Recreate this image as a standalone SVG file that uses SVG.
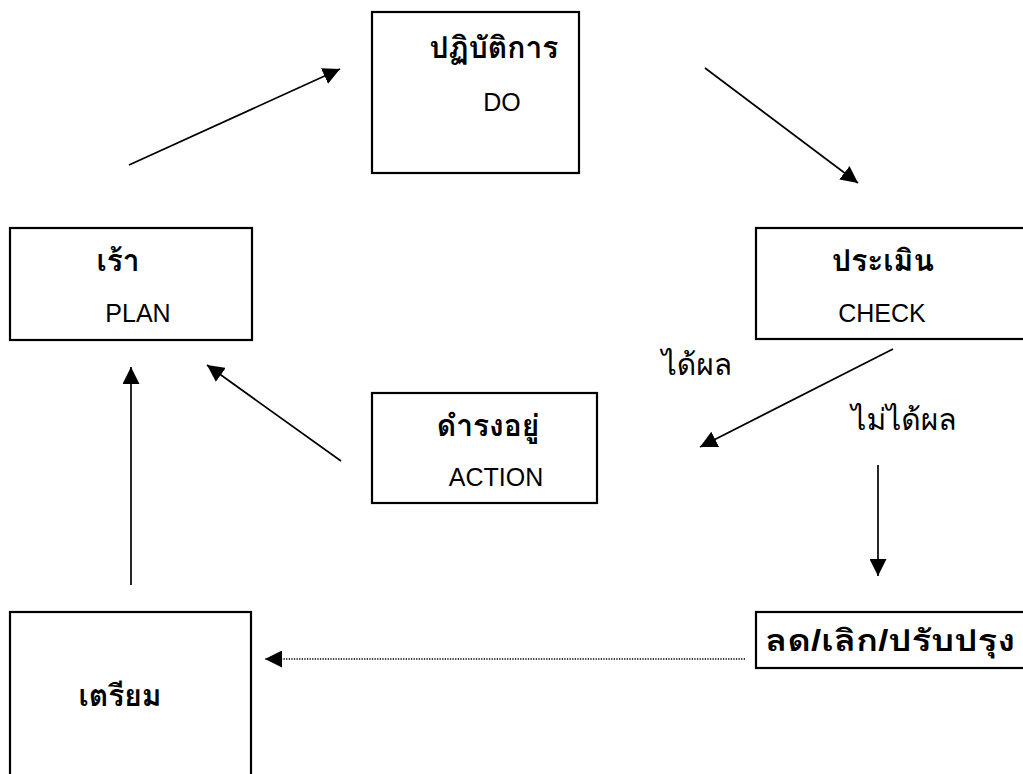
<svg xmlns="http://www.w3.org/2000/svg" width="1023" height="774" viewBox="0 0 1023 774">
<defs>
<style>
.box{fill:#fff;stroke:#000;stroke-width:2.2}
.th{font-family:"Liberation Sans","Loma","Tahoma","Noto Sans Thai Looped","Noto Sans Thai","Noto Sans",sans-serif;font-size:30px;font-weight:bold;fill:#000}
.thn{font-family:"Liberation Sans","Loma","Tahoma","Noto Sans Thai Looped","Noto Sans Thai","Noto Sans",sans-serif;font-size:30px;fill:#000}
.en{font-family:"Liberation Sans",Arial,sans-serif;font-size:25px;fill:#000}
.ln{stroke:#000;stroke-width:1.7;fill:none}
.dot{stroke:#000;stroke-width:1.3;stroke-dasharray:1.3 1.3;fill:none}
</style>
<marker id="ah2" viewBox="0 0 10 10" refX="10" refY="5" markerWidth="17" markerHeight="17" markerUnits="userSpaceOnUse" orient="auto">
<path d="M0,0 L10,5 L0,10 Z" fill="#000"/>
</marker>
</defs>
<rect width="1023" height="774" fill="#fff"/>
<g id="connectors">
<line class="ln" x1="129" y1="165" x2="340" y2="69" marker-end="url(#ah2)"/>
<line class="ln" x1="705" y1="68" x2="858" y2="183" marker-end="url(#ah2)"/>
<line class="ln" x1="131" y1="585" x2="131" y2="367" marker-end="url(#ah2)"/>
<line class="ln" x1="341" y1="461" x2="207" y2="365" marker-end="url(#ah2)"/>
<line class="ln" x1="893" y1="349" x2="700" y2="447" marker-end="url(#ah2)"/>
<line class="ln" x1="878" y1="465" x2="878" y2="576" marker-end="url(#ah2)"/>
<line class="dot" x1="745" y1="659" x2="265" y2="659" marker-end="url(#ah2)"/>
</g>
<g id="node-do">
<rect class="box" x="372" y="12" width="207" height="161"/>
<text class="th" x="494" y="58" text-anchor="middle">ปฏิบัติการ</text>
<text class="en" x="502" y="111" text-anchor="middle">DO</text>
</g>
<g id="node-plan">
<rect class="box" x="10" y="228" width="242" height="112"/>
<text class="th" x="118" y="271" text-anchor="middle">เร้า</text>
<text class="en" x="138" y="322" text-anchor="middle">PLAN</text>
</g>
<g id="node-check">
<rect class="box" x="756" y="228" width="280" height="111"/>
<text class="th" x="883" y="271" text-anchor="middle">ประเมิน</text>
<text class="en" x="882" y="322" text-anchor="middle">CHECK</text>
</g>
<g id="node-action">
<rect class="box" x="372" y="393" width="225" height="110"/>
<text class="th" x="488" y="436" text-anchor="middle">ดำรงอยู่</text>
<text class="en" x="496" y="486" text-anchor="middle">ACTION</text>
</g>
<g id="node-reduce">
<rect class="box" x="756" y="612" width="280" height="56"/>
<text class="th" x="765" y="651" textLength="250" lengthAdjust="spacingAndGlyphs">ลด/เลิก/ปรับปรุง</text>
</g>
<g id="node-prepare">
<rect class="box" x="10" y="612" width="241" height="175"/>
<text class="th" x="120" y="706" text-anchor="middle">เตรียม</text>
</g>
<g id="labels">
<text class="thn" x="697" y="375" text-anchor="middle">ได้ผล</text>
<text class="thn" x="904" y="430" text-anchor="middle">ไม่ได้ผล</text>
</g>
</svg>
